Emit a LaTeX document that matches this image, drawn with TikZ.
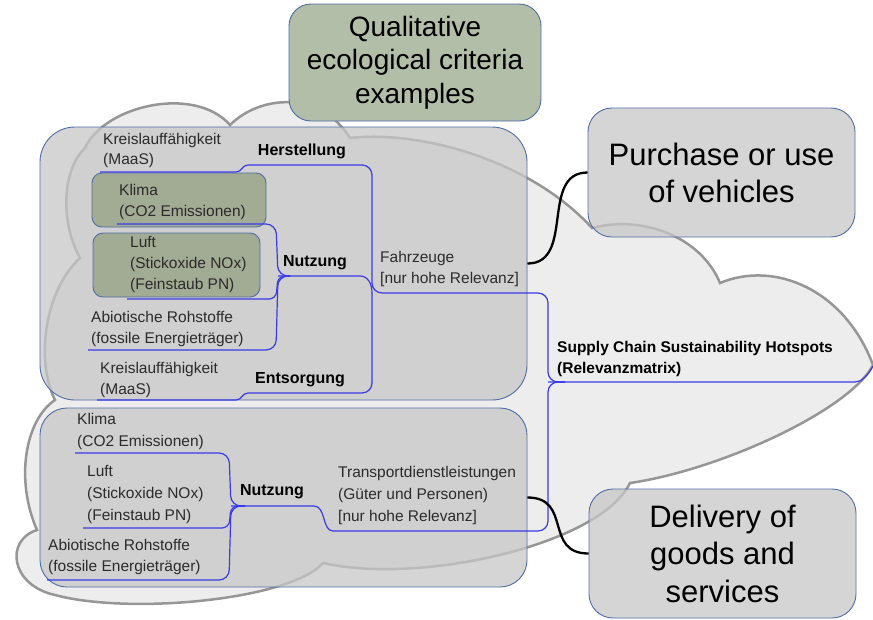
\documentclass[tikz,border=0pt]{standalone}
\usepackage{fontspec}
\setmainfont{Liberation Sans}
\definecolor{bordblue}{HTML}{4F6EA6}
\definecolor{mmblue}{HTML}{3A3AE6}
\definecolor{grnbox}{HTML}{A2AB93}
\definecolor{qualgrn}{HTML}{B3BEA8}
\definecolor{cloudfill}{HTML}{EDEDED}
\definecolor{cloudline}{HTML}{969696}
\definecolor{txtgray}{HTML}{2B2B2B}
\begin{document}
\begin{tikzpicture}[x=1pt,y=-1pt,
  grp/.style={draw=bordblue, line width=0.9pt, fill=black!22, fill opacity=0.74, text opacity=1, inner sep=0pt},
  grnb/.style={draw=bordblue, line width=0.9pt, fill=grnbox, rounded corners=10pt, inner sep=0pt},
  bigbox/.style={draw=bordblue, line width=0.9pt, fill=black!22, fill opacity=0.74, text opacity=1, rounded corners=24pt, minimum width=267pt, minimum height=129pt, align=center, font=\fontsize{31}{37}\selectfont, inner sep=0pt},
  tx/.style={font=\fontsize{15.5}{21}\selectfont, text=txtgray, align=left, anchor=west, inner sep=0pt},
  txb/.style={font=\fontsize{16}{19}\selectfont\bfseries, text=black, inner sep=0pt},
  mm/.style={draw=mmblue, line width=1.2pt, rounded corners=10pt},
  mmc/.style={draw=mmblue, line width=1.2pt},
  conn/.style={draw=black, line width=2.3pt}
]
\useasboundingbox (0,0) rectangle (873,619);

% background cloud
\path[fill=cloudfill, draw=cloudline, line width=2.5pt]
  (80,258) .. controls (60,222) and (62,170) .. (85,148)
  .. controls (105,105) and (195,85) .. (230,125)
  .. controls (260,95) and (320,90) .. (350,138)
  .. controls (420,130) and (530,160) .. (592,228)
  .. controls (640,215) and (700,235) .. (720,283)
  .. controls (775,260) and (845,290) .. (873,365)
  .. controls (850,410) and (720,470) .. (630,483)
  .. controls (600,545) and (420,585) .. (323,563)
  .. controls (290,600) and (130,615) .. (55,595)
  .. controls (10,585) and (5,540) .. (37,530)
  .. controls (15,480) and (25,420) .. (55,400)
  .. controls (35,360) and (45,290) .. (80,258) -- cycle;

% group boxes
\node[grp, rounded corners=35pt, minimum width=487pt, minimum height=273pt] (topbox) at (283.5,263.5) {};
\node[grp, rounded corners=27pt, minimum width=487pt, minimum height=179pt] (botbox) at (283.5,497.5) {};

% green boxes
\node[grnb, minimum width=174pt, minimum height=54pt] (klimabox) at (179,200) {};
\node[grnb, minimum width=167pt, minimum height=64pt] (luftbox) at (176.5,265) {};

% junction coordinates
\coordinate (jFahr) at (372,293);
\coordinate (jCent) at (548,382);
\coordinate (jNut1) at (278,276);
\coordinate (jHer) at (248,165);
\coordinate (jEnt) at (248,393);
\coordinate (jTra) at (333,531);
\coordinate (jNut2) at (231,506);
\coordinate (cEnd) at (873,366);

% mind map lines: top box
\draw[mm] (jHer) -- (372,165) -- (372,293) -- (548,293) -- (548,382) -- (565,382);
\draw[mm] (jEnt) -- (372,393) -- (jFahr);
\draw[mmc] (jNut1) -- (360,276) .. controls (368,276) and (372,284) .. (jFahr);
\draw[mmc] (100,172) -- (236,172) .. controls (242,172) and (242,165) .. (jHer);
\draw[mmc] (97,400) -- (236,400) .. controls (242,400) and (242,393) .. (jEnt);
\draw[mm] (117,224) -- (276,224) -- (278,276) -- (290,276);
\draw[mm, rounded corners=7pt] (127,299) -- (276,299) -- (278,276) -- (290,276);
\draw[mm] (88,350) -- (276,350) -- (278,276) -- (290,276);
% central
\draw[mmc] (jCent) -- (855,382) .. controls (862,382) and (868,375) .. (cEnd);
\draw[mm] (565,382) -- (548,382) -- (548,531) -- (jTra);
% bottom box
\draw[mmc] (jTra) .. controls (322,531) and (326,506) .. (314,506) -- (jNut2);
\draw[mm] (75,453) -- (229,453) -- (231,506) -- (245,506);
\draw[mm, rounded corners=7pt] (83,528) -- (229,528) -- (231,506) -- (245,506);
\draw[mm] (47,580) -- (229,580) -- (231,506) -- (245,506);

% texts top box
\node[tx, font=\fontsize{15.5}{19.5}\selectfont] (kr1) at (103,150.5) {Kreislauffähigkeit\\(MaaS)};
\node[txb] (herst) at (302,151) {Herstellung};
\node[tx] (klima1) at (119,201.5) {Klima\\(CO2 Emissionen)};
\node[tx] (luft1) at (130,264.5) {Luft\\(Stickoxide NOx)\\(Feinstaub PN)};
\node[txb] (nutz1) at (315,263) {Nutzung};
\node[tx] (abio1) at (91,328.5) {Abiotische Rohstoffe\\(fossile Energieträger)};
\node[tx] (kr2) at (100,379.5) {Kreislauffähigkeit\\(MaaS)};
\node[txb] (ents) at (300,380) {Entsorgung};
\node[tx] (fahr) at (380,268.5) {Fahrzeuge\\{[nur hohe Relevanz]}};
\node[tx, text=black, font=\fontsize{15.5}{20.5}\selectfont\bfseries] (supply) at (557,359) {Supply Chain Sustainability Hotspots\\(Relevanzmatrix)};

% texts bottom box
\node[tx, font=\fontsize{15.5}{22}\selectfont] (klima2) at (77,431) {Klima\\(CO2 Emissionen)};
\node[tx, font=\fontsize{15.5}{22}\selectfont] (luft2) at (87,494) {Luft\\(Stickoxide NOx)\\(Feinstaub PN)};
\node[txb] (nutz2) at (272,492) {Nutzung};
\node[tx, font=\fontsize{15.5}{21}\selectfont] (abio2) at (48,556.5) {Abiotische Rohstoffe\\(fossile Energieträger)};
\node[tx, font=\fontsize{15.5}{22}\selectfont] (trans) at (338,495) {Transportdienstleistungen\\(Güter und Personen)\\{[nur hohe Relevanz]}};

% big boxes
\node[draw=bordblue, line width=0.9pt, fill=qualgrn, rounded corners=22pt, minimum width=252pt, minimum height=117pt, align=center, font=\fontsize{28}{33.5}\selectfont, inner sep=0pt] (qual) at (415,62.5) {Qualitative\\ecological criteria\\examples};
\node[bigbox] (purch) at (721.5,172.5) {Purchase or use\\of vehicles};
\node[bigbox, font=\fontsize{31}{37.5}\selectfont] (deliv) at (722.5,553.5) {Delivery of\\goods and\\services};

% black connectors
\draw[conn] (topbox.east) .. controls +(48,0) and +(-48,0) .. (purch.west);
\draw[conn] (botbox.east) .. controls +(45,0) and +(-45,0) .. (deliv.west);
\end{tikzpicture}
\end{document}
